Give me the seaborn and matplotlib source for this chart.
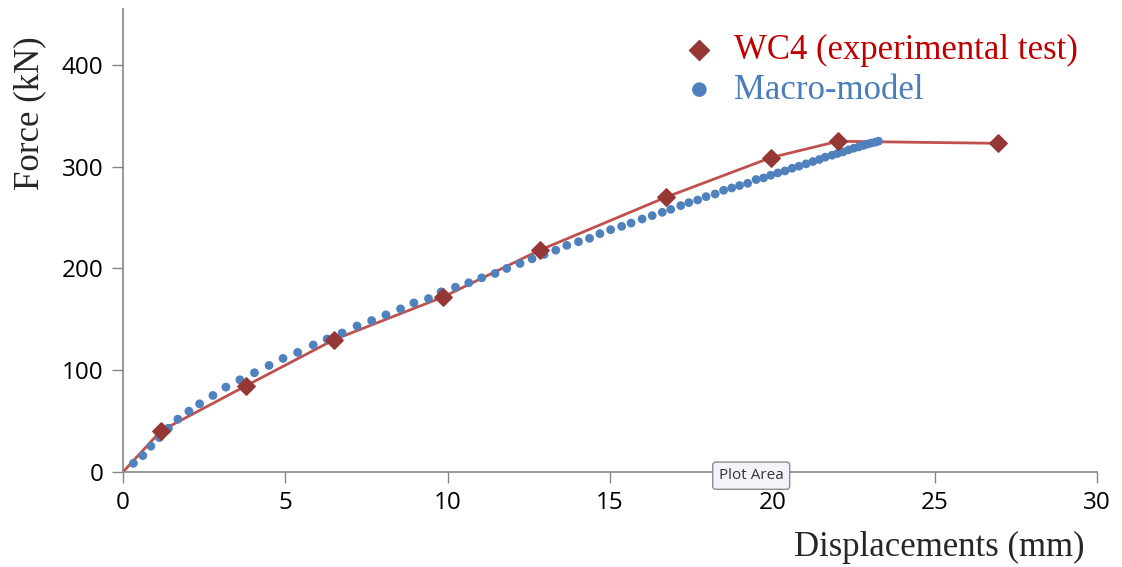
import matplotlib
matplotlib.use('Agg')
import matplotlib.pyplot as plt
import seaborn as sns
import pandas as pd

# experimental test WC4 (diamonds, joined by the red line from the origin)
exp_disp = [0.0, 1.17, 3.79, 6.50, 9.86, 12.84, 16.72, 19.96, 22.02, 26.95]
exp_force = [0.0, 40.4, 84.7, 130.0, 172.0, 218.0, 270.0, 309.0, 325.0, 323.0]

# macro-model (blue dots)
mod_disp = [0.32, 0.61, 0.86, 1.12, 1.40, 1.69, 2.03, 2.36, 2.77, 3.17, 3.60, 4.05,
            4.50, 4.93, 5.38, 5.86, 6.29, 6.75, 7.21, 7.66, 8.10, 8.55, 8.96, 9.41,
            9.80, 10.24, 10.65, 11.05, 11.46, 11.82, 12.23, 12.60, 12.97, 13.33,
            13.67, 14.03, 14.37, 14.69, 15.02, 15.36, 15.65, 15.99, 16.30, 16.61,
            16.87, 17.18, 17.43, 17.70, 17.96, 18.24, 18.50, 18.75, 18.99, 19.24,
            19.50, 19.73, 19.95, 20.17, 20.39, 20.61, 20.82, 21.04, 21.25, 21.45,
            21.63, 21.84, 22.01, 22.18, 22.35, 22.51, 22.66, 22.80, 22.92, 23.04,
            23.17, 23.27]
mod_force = [8.5, 16.1, 25.3, 33.8, 43.0, 51.9, 59.8, 67.0, 75.2, 83.4, 90.6, 97.5,
             104.7, 111.6, 117.5, 124.8, 130.7, 136.6, 143.5, 148.8, 154.4, 160.3,
             166.2, 170.4, 177.0, 181.6, 185.9, 190.8, 195.1, 200.0, 204.9, 209.5,
             213.8, 218.0, 222.7, 226.3, 229.6, 234.2, 238.1, 241.4, 244.6, 248.6,
             251.9, 255.2, 258.1, 261.8, 264.7, 267.3, 270.6, 273.2, 276.8, 279.1,
             281.5, 283.7, 287.4, 289.0, 291.6, 293.9, 295.9, 298.5, 300.5, 302.8,
             305.1, 307.1, 309.4, 311.3, 313.0, 314.6, 316.6, 318.2, 319.5, 320.9,
             322.2, 323.2, 324.1, 325.1]

x_ticks = [0, 5, 10, 15, 20, 25, 30]
y_ticks = [0, 100, 200, 300, 400]

exp = pd.DataFrame({'disp': exp_disp, 'force': exp_force})
mod = pd.DataFrame({'disp': mod_disp, 'force': mod_force})

sns.set_style('white')
plt.rcParams['font.family'] = ['Open Sans', 'DejaVu Sans']

fig = plt.figure(figsize=(11.22, 5.67), dpi=100)
ax = fig.add_axes([0.1096, 0.1676, 0.8681, 0.8165])

sns.lineplot(data=exp, x='disp', y='force', sort=False, color='#C0504D', linewidth=2, ax=ax, zorder=2)
sns.scatterplot(data=mod, x='disp', y='force', color='#4F81BD', s=40, edgecolor='none', ax=ax, zorder=3,
                label='Macro-model')
sns.scatterplot(data=exp.iloc[1:], x='disp', y='force', marker='D', color='#953735', s=76, edgecolor='#953735',
                linewidth=1.2, ax=ax, zorder=4, label='WC4 (experimental test)')

ax.set_xlim(0, 30)
ax.set_ylim(0, 455)
ax.set_xticks(x_ticks)
ax.set_yticks(y_ticks)
ax.tick_params(axis='both', labelsize=17.5, labelcolor='black', length=8, width=1, color='#868686',
               direction='out', pad=6, bottom=True, left=True)
for s in ['top', 'right']:
    ax.spines[s].set_visible(False)
for s in ['left', 'bottom']:
    ax.spines[s].set_color('#868686')
    ax.spines[s].set_linewidth(1.2)

serif = ['Liberation Serif', 'DejaVu Serif']
ax.set_xlabel('')
ax.set_ylabel('')
fig.text(0.708, 0.006, 'Displacements (mm)', family=serif, fontsize=25, ha='left', va='bottom')
fig.text(0.012, 0.80, 'Force (kN)', family=serif, fontsize=25, rotation=90, ha='left', va='center')

h, l = ax.get_legend_handles_labels()
leg = ax.legend(h[::-1], l[::-1], loc='upper left', bbox_to_anchor=(0.58, 0.965), bbox_transform=fig.transFigure,
                frameon=False, prop={'family': serif, 'size': 25}, handletextpad=0.0, labelspacing=0.2,
                borderaxespad=0)
for t, c in zip(leg.get_texts(), ['#C00000', '#4A7EBB']):
    t.set_color(c)
leg.legend_handles[0].set_sizes([100])
leg.legend_handles[1].set_sizes([110])

ax.text(0.645, -0.008, 'Plot Area', transform=ax.transAxes, ha='center', va='center', fontsize=11,
        color='#333333', zorder=10,
        bbox=dict(boxstyle='round,pad=0.4,rounding_size=0.2', fc='#F3F4FA', ec='#8C8C8C', lw=1))

fig.savefig('out.png', dpi=100)
